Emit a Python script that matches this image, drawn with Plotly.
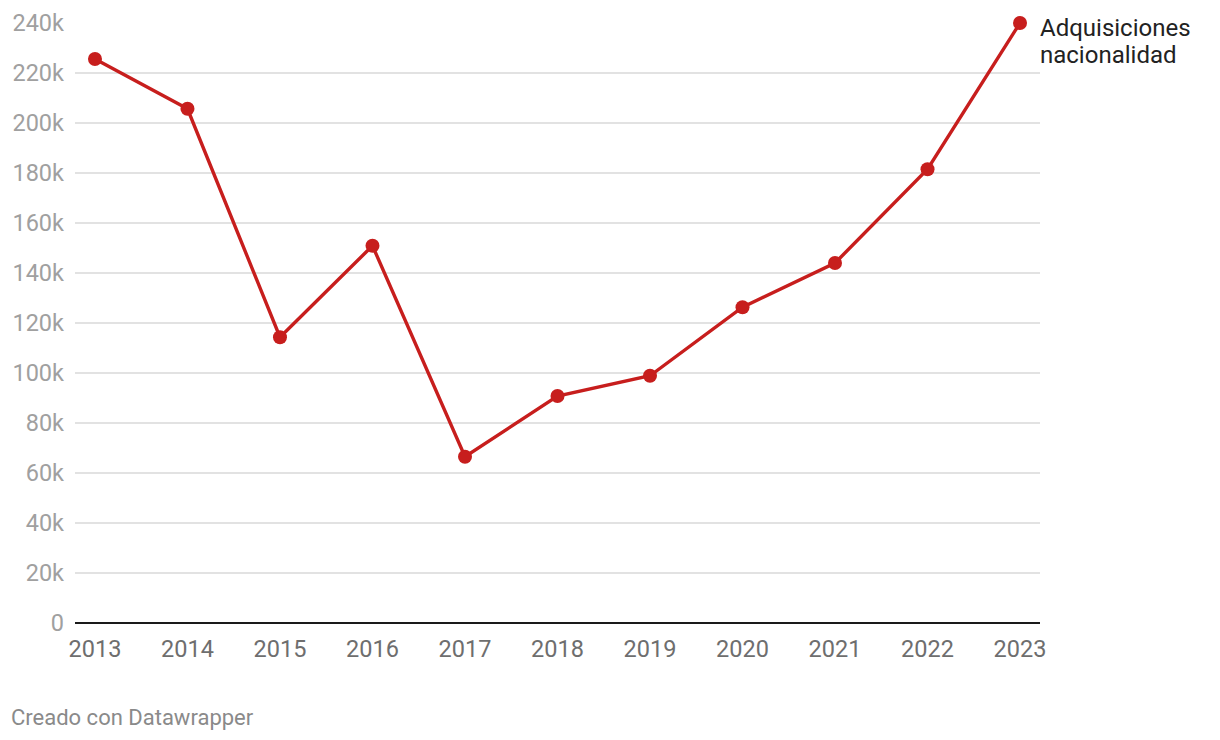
import plotly.graph_objects as go

years = [2013, 2014, 2015, 2016, 2017, 2018, 2019, 2020, 2021, 2022, 2023]
values = [225600, 205700, 114300, 150900, 66500, 90800, 98900, 126300, 144000, 181500, 240000]
y_ticks = [0, 20000, 40000, 60000, 80000, 100000, 120000, 140000, 160000, 180000, 200000, 220000, 240000]
y_tick_labels = ["0", "20k", "40k", "60k", "80k", "100k", "120k", "140k", "160k", "180k", "200k", "220k", "240k"]
series_label_lines = ["Adquisiciones", "nacionalidad"]
footer = "Creado con Datawrapper"

color = "#c71e1d"
font = "Roboto"

fig = go.Figure()
fig.add_trace(go.Scatter(
    x=years, y=values, mode="lines+markers",
    line=dict(color=color, width=3.4),
    marker=dict(color=color, size=14),
    cliponaxis=False, hoverinfo="x+y", showlegend=False,
))

for i, line in enumerate(series_label_lines):
    fig.add_annotation(
        x=years[-1], y=values[-1], xref="x", yref="y",
        text=line, showarrow=False,
        xanchor="left", yanchor="middle", align="left",
        xshift=18, yshift=-5 - 27 * i,
        font=dict(family=font, size=24, color="#222222"),
    )
fig.add_annotation(
    x=0, y=0, xref="paper", yref="paper",
    text=footer, showarrow=False,
    xanchor="left", yanchor="middle",
    xshift=-66, yshift=-94,
    font=dict(family=font, size=22, color="#8a8a8a"),
)

fig.update_layout(
    width=1220, height=740,
    margin=dict(l=75, r=180, t=23, b=117),
    plot_bgcolor="white", paper_bgcolor="white",
    font=dict(family=font),
    xaxis=dict(
        range=[2012.784, 2023.216], automargin=False,
        tickmode="array", tickvals=years, ticktext=[str(y) for y in years],
        showgrid=False, zeroline=False, showline=False,
        ticks="", tickfont=dict(family=font, size=23.5, color="#6e6e6e"),
        ticklabelstandoff=9,
    ),
    yaxis=dict(
        range=[0, 240000], automargin=False,
        tickmode="array", tickvals=y_ticks, ticktext=y_tick_labels,
        showgrid=True, gridcolor="#e2e2e2", gridwidth=1.5,
        zeroline=True, zerolinecolor="#1a1a1a", zerolinewidth=2,
        showline=False, ticks="",
        tickfont=dict(family=font, size=23.5, color="#a0a0a0"),
        ticklabelstandoff=10,
    ),
)

fig.write_html("out.html")
